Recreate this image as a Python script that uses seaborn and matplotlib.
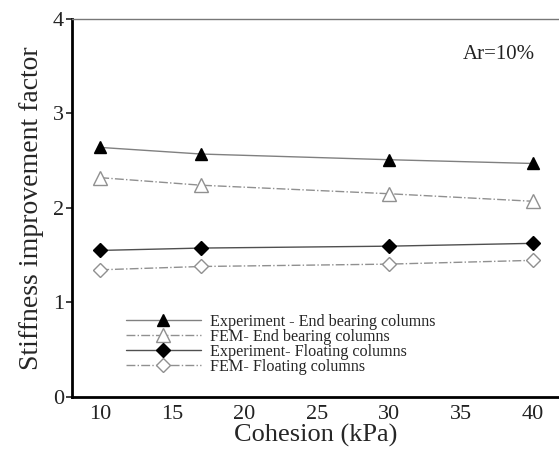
import matplotlib
matplotlib.use("Agg")
import matplotlib.pyplot as plt
import seaborn as sns
import pandas as pd

cohesion = [10, 17, 30, 40]
exp_end = [2.64, 2.57, 2.51, 2.47]
fem_end = [2.32, 2.24, 2.15, 2.07]
exp_float = [1.55, 1.575, 1.595, 1.625]
fem_float = [1.345, 1.38, 1.405, 1.445]
labels = ["Experiment - End bearing columns", "FEM- End bearing columns",
          "Experiment- Floating columns", "FEM- Floating columns"]

sns.set_style("white")
plt.rcParams['font.family'] = ['Liberation Serif', 'DejaVu Serif']

fig = plt.figure(figsize=(5.59, 4.5), dpi=100)
ax = fig.add_axes([0.129, 0.118, 0.871, 0.840])

series = [exp_end, fem_end, exp_float, fem_float]
styles = [
    dict(marker="^", color="#808080", linestyle="-", mfc="black", mec="black", ms=9),
    dict(marker="^", color="#909090", linestyle="-.", mfc="white", mec="#909090", ms=10),
    dict(marker="D", color="#505050", linestyle="-", mfc="black", mec="black", ms=7.5),
    dict(marker="D", color="#909090", linestyle="-.", mfc="white", mec="#909090", ms=7.5),
]
for vals, lab, st in zip(series, labels, styles):
    df = pd.DataFrame({"x": cohesion, "y": vals})
    sns.lineplot(data=df, x="x", y="y", ax=ax, label=lab, color=st["color"],
                 linestyle=st["linestyle"], linewidth=1.0, marker=st["marker"],
                 markerfacecolor=st["mfc"], markeredgecolor=st["mec"],
                 markersize=st["ms"], markeredgewidth=1.0)

ax.set_xlim(8.05, 41.8)
ax.set_ylim(0, 4)
ax.set_xticks([10, 15, 20, 25, 30, 35, 40])
ax.set_yticks([0, 1, 2, 3, 4])
ax.tick_params(axis='both', labelsize=16, colors='#222222')
ax.tick_params(axis='y', length=4, width=1.2, direction='out', left=True, pad=2)
ax.tick_params(axis='x', length=0, pad=6)
ax.set_xlabel("Cohesion (kPa)", fontsize=19, labelpad=0)
ax.set_ylabel("Stiffness improvement factor", fontsize=20, labelpad=6)

for s in ["left", "bottom"]:
    ax.spines[s].set_color("black")
    ax.spines[s].set_linewidth(2.0)
ax.spines["top"].set_color("#777777")
ax.spines["top"].set_linewidth(1.0)
ax.spines["right"].set_visible(False)

ax.text(0.951, 0.905, "Ar=10%", transform=ax.transAxes, fontsize=15,
        ha="right", va="center", color="#222222")

leg = ax.legend(loc="lower left", bbox_to_anchor=(0.095, 0.037), frameon=False,
                fontsize=11.6, handlelength=4.6, labelspacing=-0.06,
                handletextpad=0.6, borderpad=0)

fig.savefig("out.png", dpi=100)
